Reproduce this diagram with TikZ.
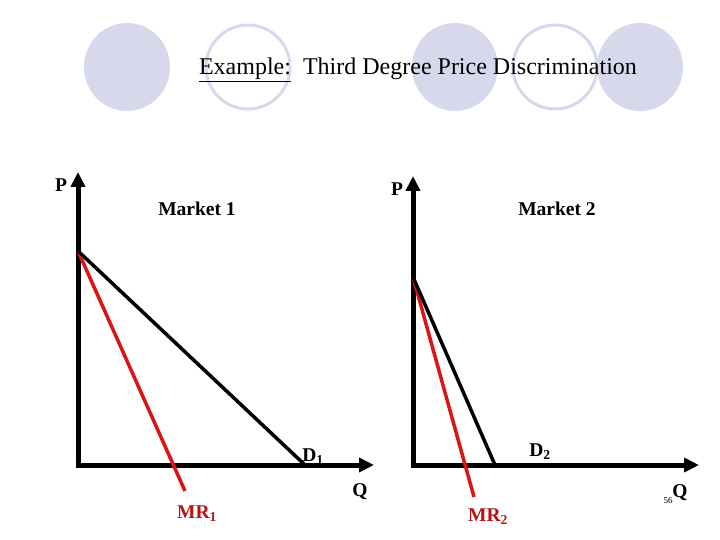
\documentclass[tikz,border=0pt]{standalone}
\usepackage{fontspec}
\setmainfont{Liberation Serif}
\usetikzlibrary{arrows.meta}
\definecolor{lav}{RGB}{216,216,236}
\definecolor{mrred}{RGB}{220,20,20}
\tikzset{
	axis/.style={line width=5pt, -{Triangle[length=15pt,width=14pt]}},
	curve/.style={line width=3.5pt},
	lbl/.style={font=\bfseries\fontsize{19.5}{19.5}\selectfont, inner sep=0pt},
}
\begin{document}
\begin{tikzpicture}[x=1pt, y=-1pt]
	\useasboundingbox (0,0) rectangle (720,540);
	% decoration
	\fill[lav] (127,67) ellipse (43 and 44);
	\draw[lav, line width=3pt] (248,67) ellipse (42 and 42);
	\fill[lav] (455,67) ellipse (43 and 44);
	\draw[lav, line width=3pt] (555,67) ellipse (42 and 42);
	\fill[lav] (640,67) ellipse (43 and 44);
	\node[font=\fontsize{24}{24}\selectfont, anchor=base] (title) at (418,75)
		{\underline{Example:}\ \ Third Degree Price Discrimination};
	% market 1
	\coordinate (o1) at (78,465); \coordinate (y1) at (78,172); \coordinate (x1) at (374,465);
	\coordinate (a1) at (78,251); \coordinate (d1) at (305,465); \coordinate (m1) at (185,491);
	\draw[axis] (78,467.5) -- (y1);
	\draw[axis] (75.5,465) -- (x1);
	\draw[curve, mrred] (a1) -- (m1);
	\draw[curve] (a1) -- (d1);
	\node[lbl] (p1) at (61,185) {P};
	\node[lbl] (mk1) at (197,209) {Market 1};
	\node[lbl] (dl1) at (313,457) {D\textsubscript{1}};
	\node[lbl] (q1) at (360,492) {Q};
	\node[lbl, mrred!85!black] (mr1) at (197,514) {MR\textsubscript{1}};
	% market 2
	\coordinate (o2) at (413,465); \coordinate (y2) at (413,176); \coordinate (x2) at (699,465);
	\coordinate (a2) at (413,277); \coordinate (d2) at (495,465); \coordinate (m2) at (474,497);
	\draw[axis] (413,467.5) -- (y2);
	\draw[axis] (410.5,465) -- (x2);
	\draw[curve, mrred] (a2) -- (m2);
	\draw[curve] (a2) -- (d2);
	\node[lbl] (p2) at (397,189) {P};
	\node[lbl] (mk2) at (557,209) {Market 2};
	\node[lbl] (dl2) at (540,452) {D\textsubscript{2}};
	\node[lbl] (q2) at (680,493) {Q};
	\node[font=\fontsize{9}{9}\selectfont, inner sep=0pt] (pg) at (668,501) {56};
	\node[lbl, mrred!85!black] (mr2) at (488,517) {MR\textsubscript{2}};
\end{tikzpicture}
\end{document}
